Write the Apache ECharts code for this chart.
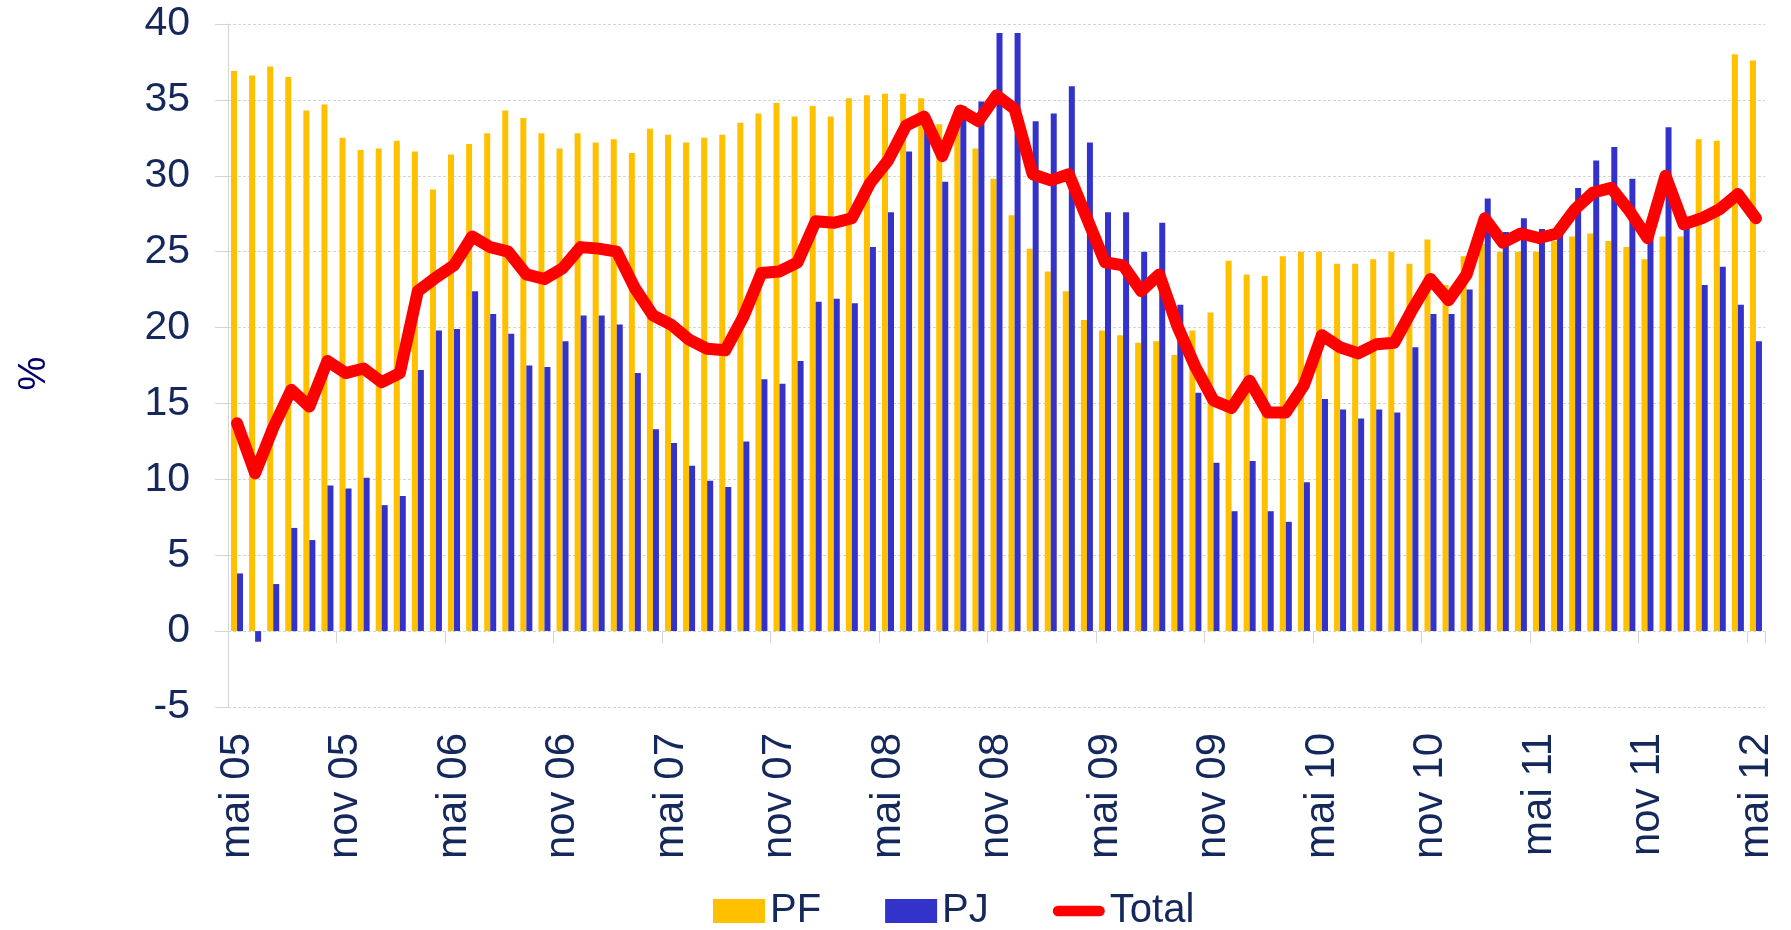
<!DOCTYPE html>
<html>
<head>
<meta charset="utf-8">
<script src="https://cdn.jsdelivr.net/npm/echarts@6/dist/echarts.min.js"></script>
<style>
  html, body { margin: 0; padding: 0; background: #fff; }
  #chart { width: 1791px; height: 930px; }
</style>
</head>
<body>
<div id="chart"></div>
<script>
// months, mai 2005 -> mai 2012
const monthNames = ['janv', 'févr', 'mars', 'avr', 'mai', 'juin', 'juil', 'août', 'sept', 'oct', 'nov', 'déc'];
const firstYear = 2005, firstMonth = 4, monthCount = 85;
const categories = [];
for (let k = 0; k < monthCount; k++) {
  const m = (firstMonth + k) % 12;
  const y = firstYear + Math.floor((firstMonth + k) / 12);
  categories.push(monthNames[m] + ' ' + String(y % 100).padStart(2, '0'));
}

const pf = [
  36.9, 36.6, 37.2, 36.5, 34.3, 34.7, 32.5, 31.7, 31.8, 32.3, 31.6, 29.1, 31.4, 32.1, 32.8,
  34.3, 33.8, 32.8, 31.8, 32.8, 32.2, 32.4, 31.5, 33.1, 32.7, 32.2, 32.5, 32.7, 33.5, 34.1,
  34.8, 33.9, 34.6, 33.9, 35.1, 35.3, 35.4, 35.4, 35.1, 33.4, 33.8, 31.8, 29.8, 27.4, 25.2,
  23.7, 22.4, 20.5, 19.8, 19.5, 19.0, 19.1, 18.2, 19.8, 21.0, 24.4, 23.5, 23.4, 24.7, 25.0,
  25.0, 24.2, 24.2, 24.5, 25.0, 24.2, 25.8, 22.8, 24.7, 25.5, 25.0, 25.0, 25.0, 25.7, 26.0,
  26.2, 25.7, 25.3, 24.5, 26.0, 26.0, 32.4, 32.3, 38.0, 37.6
];
const pj = [
  3.8, -0.7, 3.1, 6.8, 6.0, 9.6, 9.4, 10.1, 8.3, 8.9, 17.2, 19.8, 19.9, 22.4, 20.9,
  19.6, 17.5, 17.4, 19.1, 20.8, 20.8, 20.2, 17.0, 13.3, 12.4, 10.9, 9.9, 9.5, 12.5, 16.6,
  16.3, 17.8, 21.7, 21.9, 21.6, 25.3, 27.6, 31.6, 33.0, 29.6, 34.6, 34.9, 39.4, 39.4, 33.6,
  34.1, 35.9, 32.2, 27.6, 27.6, 25.0, 26.9, 21.5, 15.7, 11.1, 7.9, 11.2, 7.9, 7.2, 9.8,
  15.3, 14.6, 14.0, 14.6, 14.4, 18.7, 20.9, 20.9, 22.5, 28.5, 26.3, 27.2, 26.5, 26.8, 29.2,
  31.0, 31.9, 29.8, 26.2, 33.2, 27.3, 22.8, 24.0, 21.5, 19.1
];
const total = [
  13.7, 10.4, 13.4, 15.9, 14.8, 17.8, 17.0, 17.3, 16.4, 17.0, 22.4, 23.3, 24.1, 26.0, 25.3,
  25.0, 23.5, 23.2, 23.9, 25.3, 25.2, 25.0, 22.6, 20.8, 20.2, 19.2, 18.6, 18.5, 20.7, 23.6,
  23.7, 24.3, 27.0, 26.9, 27.2, 29.5, 31.0, 33.3, 33.9, 31.3, 34.3, 33.6, 35.3, 34.4, 30.1,
  29.7, 30.1, 27.2, 24.3, 24.1, 22.4, 23.5, 20.1, 17.4, 15.2, 14.7, 16.5, 14.4, 14.4, 16.2,
  19.5, 18.7, 18.3, 18.9, 19.0, 21.2, 23.2, 21.8, 23.5, 27.2, 25.6, 26.2, 25.9, 26.2, 27.8,
  28.9, 29.2, 27.7, 25.9, 30.0, 26.8, 27.2, 27.8, 28.8, 27.2
];

const font = '"Liberation Sans", Arial, sans-serif';
const navy = '#14285c';
const gridColor = '#d4d4d4';

let chart = echarts.init(document.getElementById('chart'));
chart.setOption({
  animation: false,
  textStyle: { fontFamily: font },
  grid: { left: 228, right: 26, top: 24, bottom: 223, containLabel: false, outerBoundsMode: 'none' },
  legend: {
    left: 708,
    top: 886,
    itemWidth: 52,
    itemHeight: 24,
    itemGap: 64,
    textStyle: { fontSize: 40, color: navy, fontFamily: font },
    data: [
      { name: 'PF', icon: 'rect' },
      { name: 'PJ', icon: 'rect' },
      // trait épais arrondi, la boîte 0..60 x 0..24 garde les proportions
      { name: 'Total', icon: 'path://M0,0 M60,24 M6,6 L54,6 A6,6 0 0 1 54,18 L6,18 A6,6 0 0 1 6,6 Z' }
    ]
  },
  xAxis: [{
    // axe sur le zéro : seulement les graduations
    type: 'category',
    data: categories,
    position: 'bottom',
    axisLine: { show: false, onZero: true },
    axisTick: { show: true, interval: 5, length: 12, lineStyle: { color: gridColor } },
    axisLabel: { show: false }
  }, {
    // axe du bas : les libellés
    type: 'category',
    data: categories,
    position: 'bottom',
    axisLine: { show: false, onZero: false },
    axisTick: { show: false },
    axisLabel: {
      interval: 5,
      rotate: 90,
      margin: 26,
      fontSize: 42,
      color: navy,
      fontFamily: font
    }
  }],
  yAxis: {
    type: 'value',
    min: -5,
    max: 40,
    interval: 5,
    name: '%',
    nameLocation: 'middle',
    nameRotate: 90,
    nameGap: 174,
    nameTextStyle: { fontSize: 38, color: '#000066', fontFamily: font, padding: [0, 16, 0, 0] },
    axisLine: { show: true, lineStyle: { color: gridColor } },
    axisTick: { show: true, length: 13, lineStyle: { color: gridColor } },
    axisLabel: { fontSize: 41, color: navy, margin: 38, fontFamily: font },
    splitLine: { lineStyle: { color: gridColor, type: [3, 2] } }
  },
  series: [{
    name: 'PF',
    type: 'bar',
    data: pf,
    barWidth: 6,
    barGap: '0%',
    itemStyle: { color: '#FFC000' }
  }, {
    name: 'PJ',
    type: 'bar',
    data: pj,
    barWidth: 6,
    barGap: '0%',
    itemStyle: { color: '#3333CC' }
  }, {
    name: 'Total',
    type: 'line',
    data: total,
    symbol: 'none',
    itemStyle: { color: '#FF0000' },
    lineStyle: { color: '#FF0000', width: 12, join: 'round', cap: 'round' },
    z: 5
  }]
});
window.addEventListener('resize', function () {
  chart.resize();
});
</script>
</body>
</html>
